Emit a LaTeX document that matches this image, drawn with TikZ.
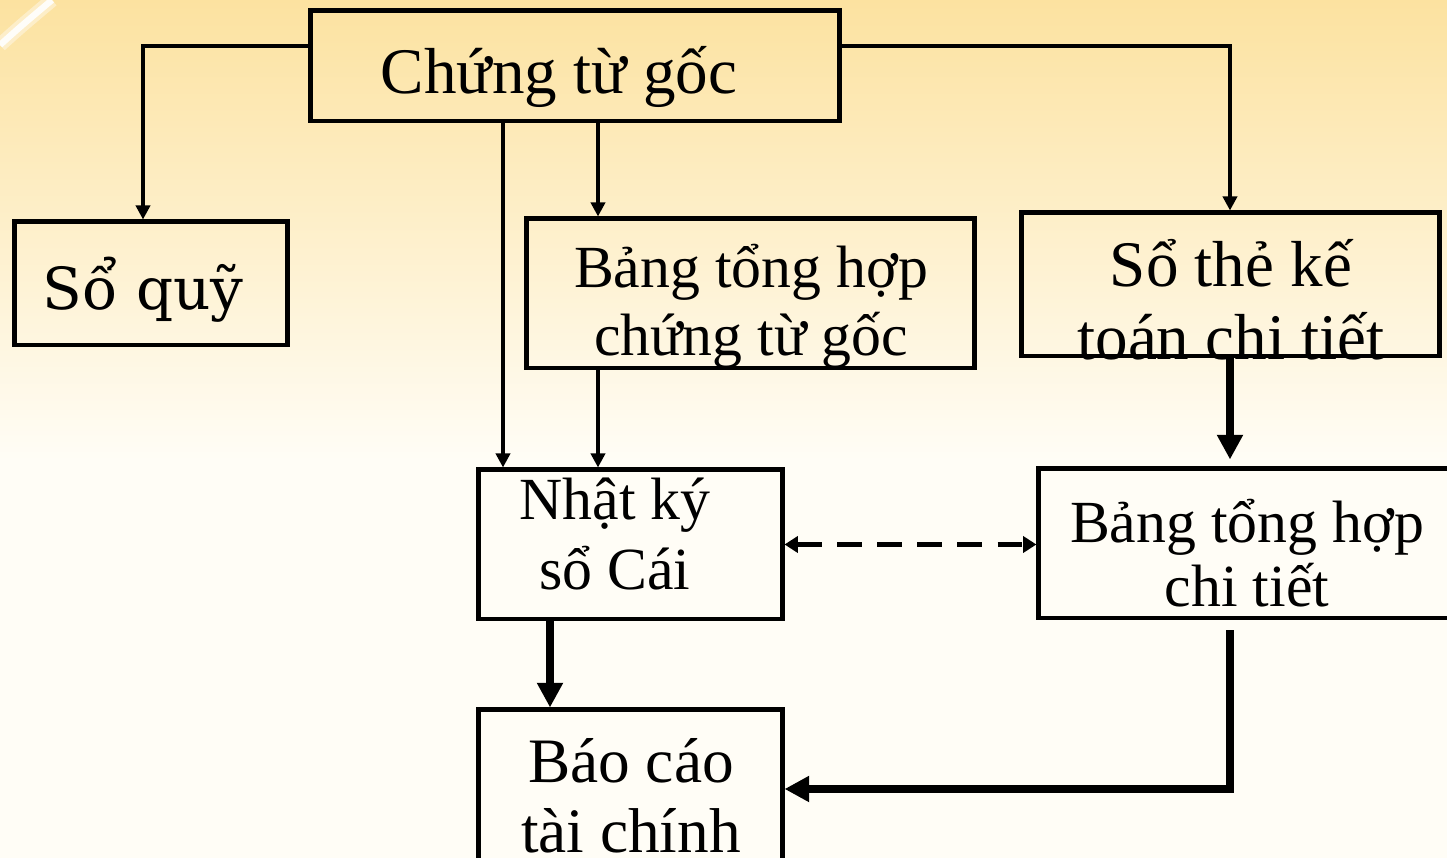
\documentclass[tikz,border=0pt]{standalone}
\usepackage{fontspec}
\setmainfont{Liberation Serif}
\newfontfamily\quyfont{DejaVu Serif}
\usepackage{xcolor}
\usetikzlibrary{arrows.meta,calc}
\definecolor{bgtop}{RGB}{252,226,160}
\definecolor{bgmid}{RGB}{254,242,208}
\definecolor{bgbot}{RGB}{255,253,246}

\begin{document}
\begin{tikzpicture}[x=0.01cm,y=-0.01cm,
	ketbox/.style={draw, line width=1.4pt, inner sep=0pt},
	boxtext/.style={inner sep=0pt, align=center, anchor=base},
	thinarrow/.style={line width=1.05pt, -{Triangle[length=4pt,width=4pt]}},
	thickarrow/.style={line width=2pt, -{Triangle[length=7pt,width=7pt]}},
	dasharrow/.style={line width=1.3pt, dash pattern=on 7pt off 4.4pt,
		{Triangle[length=3.8pt,width=4.6pt]}-{Triangle[length=3.8pt,width=4.6pt]}}]
	\useasboundingbox (0,0) rectangle (1447,858);
	\clip (0,0) rectangle (1447,858);
	% background
	\shade[top color=bgtop, middle color=bgmid, bottom color=bgbot] (0,0) rectangle (1447,460);
	\fill[bgbot] (0,460) rectangle (1447,858);
	\draw[white, line width=4pt, opacity=0.4] (0,45) .. controls (20,27) .. (52,0);
	\draw[white, line width=1.8pt, opacity=0.9] (0,45) .. controls (20,27) .. (52,0);

	% boxes
	\node[ketbox, minimum width=5.28cm, minimum height=1.10cm] (ctg) at (575,66) {};
	\node[ketbox, minimum width=2.72cm, minimum height=1.23cm] (soquy) at (151,283.5) {};
	\node[ketbox, minimum width=4.47cm, minimum height=1.49cm] (bthctg) at (750.5,293.5) {};
	\node[ketbox, minimum width=4.17cm, minimum height=1.43cm] (sothe) at (1230.5,284.5) {};
	\node[ketbox, minimum width=3.03cm, minimum height=1.49cm] (nk) at (630.5,544.5) {};
	\node[ketbox, minimum width=4.30cm, minimum height=1.49cm] (bthct) at (1254,543.5) {};
	\node[ketbox, minimum width=3.03cm, minimum height=1.58cm] (bctc) at (630.5,789) {};

	% texts (anchor = baseline of the last line)
	\node[boxtext, font=\fontsize{18.5}{21}\selectfont] (ctg-t) at (559,94) {Chứng từ gốc};
	\node[boxtext, font=\quyfont\fontsize{16.5}{20}\selectfont] (soquy-t) at (143,310) {Sổ quỹ};
	\node[boxtext, font=\fontsize{17}{19.6}\selectfont] (bthctg-t) at (751,356) {Bảng tổng hợp\\chứng từ gốc};
	\node[boxtext, font=\fontsize{18.5}{20.8}\selectfont] (sothe-t) at (1231,360) {Sổ thẻ kế\\toán chi tiết};
	\node[boxtext, font=\fontsize{17}{20}\selectfont] (nk-t) at (615,590) {Nhật ký\\sổ Cái};
	\node[boxtext, font=\fontsize{17}{18.2}\selectfont] (bthct-t) at (1247,607) {Bảng tổng hợp\\chi tiết};
	\node[boxtext, font=\fontsize{18}{20}\selectfont] (bctc-t) at (631,853) {Báo cáo\\tài chính};

	% columns and rows of the connectors
	\coordinate (colA) at (143,0);
	\coordinate (colB) at (503,0);
	\coordinate (colC) at (598,0);
	\coordinate (colD) at (550,0);
	\coordinate (colE) at (1230,0);
	\coordinate (rowA) at (0,46);

	\draw[thinarrow] (ctg.west |- rowA) -| (soquy.north -| colA);
	\draw[thinarrow] (ctg.east |- rowA) -| (sothe.north -| colE);
	\draw[thinarrow] (ctg.south -| colB) -- (nk.north -| colB);
	\draw[thinarrow] (ctg.south -| colC) -- (bthctg.north -| colC);
	\draw[thinarrow] (bthctg.south -| colC) -- (nk.north -| colC);
	\draw[thickarrow] (sothe.south -| colE) -- ($(bthct.north -| colE)+(0,-7)$);
	\draw[dasharrow] (nk.east) -- (nk.east -| bthct.west);
	\draw[thickarrow] (nk.south -| colD) -- (bctc.north -| colD);
	\draw[thickarrow] ($(bthct.south -| colE)+(0,10)$) |- (bctc.east);
\end{tikzpicture}
\end{document}
